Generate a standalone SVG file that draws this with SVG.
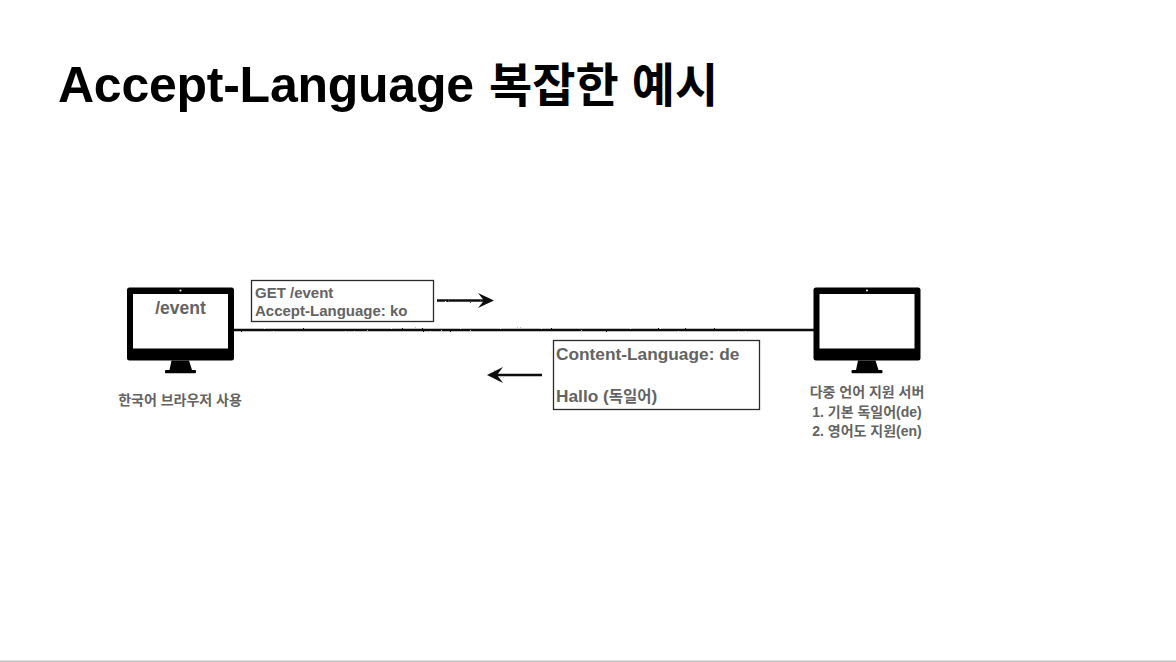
<svg xmlns="http://www.w3.org/2000/svg" width="1176" height="662" viewBox="0 0 1176 662">
<style>
.t{font-family:"Liberation Sans","Noto Sans CJK KR",sans-serif;font-weight:700;fill:#636363}
.box{fill:#fff;stroke:#2a2a2a;stroke-width:1.3}
.line{fill:none;stroke:#111;stroke-width:2.6}
.head{fill:#111}
</style>
<defs>
<filter id="rough" x="-2%" y="-50%" width="104%" height="200%" filterUnits="objectBoundingBox">
<feTurbulence type="fractalNoise" baseFrequency="0.7" numOctaves="2" seed="4"/>
<feDisplacementMap in="SourceGraphic" scale="1.800" xChannelSelector="R" yChannelSelector="G"/>
</filter>
<g id="mon">
<rect x="0" y="0" width="107" height="73" rx="2.500" fill="#000"/>
<rect x="6" y="6.500" width="95" height="54.500" fill="#fff"/>
<circle cx="53.500" cy="3" r="1" fill="#fff"/>
<path d="M44.500 73H62L65 82.500H42.500Z" fill="#000"/>
<rect x="38" y="82.500" width="31" height="3.200" rx="1" fill="#000"/>
</g>
</defs>
<rect width="1176" height="662" fill="#fff"/>
<rect x="0" y="660.500" width="1176" height="1.500" fill="#c4c4c4"/>
<text id="title" x="58" y="102" style="font-family:'Liberation Sans','Noto Sans CJK KR',sans-serif;font-weight:700;fill:#000;font-size:50px"><tspan letter-spacing="-0.25">Accept-Language</tspan><tspan x="489" font-size="47">복잡한 예시</tspan></text>
<g id="connectors" filter="url(#rough)">
<path class="line" d="M234 330H814"/>
<path class="line" d="M437 300.500H484"/>
<path class="head" d="M478 293L494 300.500L478 308L484 300.500Z"/>
<path class="line" d="M542 375H496"/>
<path class="head" d="M503 367L487 375L503 383L497 375Z"/>
</g>
<g id="client">
<use href="#mon" x="127" y="287.500"/>
<text class="t" x="180.500" y="314" font-size="17.500" text-anchor="middle">/event</text>
<text class="t" x="180" y="405" font-size="14" text-anchor="middle">한국어 브라우저 사용</text>
</g>
<g id="request">
<rect class="box" x="251.500" y="280.500" width="182" height="41"/>
<text class="t" x="255" y="298" font-size="15">GET /event</text>
<text class="t" x="255" y="316" font-size="15">Accept-Language: ko</text>
</g>
<g id="response">
<rect class="box" x="553.500" y="340.500" width="206" height="69"/>
<text class="t" x="556" y="360" font-size="17.300">Content-Language: de</text>
<text class="t" x="556" y="402" font-size="17.300">Hallo (<tspan font-size="15.500">독일어</tspan>)</text>
</g>
<g id="server">
<use href="#mon" x="813.500" y="287.500"/>
<text class="t" x="867" y="397" font-size="14" text-anchor="middle">다중 언어 지원 서버</text>
<text class="t" x="867" y="417" font-size="14" text-anchor="middle">1. 기본 독일어(de)</text>
<text class="t" x="867" y="436" font-size="14" text-anchor="middle">2. 영어도 지원(en)</text>
</g>
</svg>
